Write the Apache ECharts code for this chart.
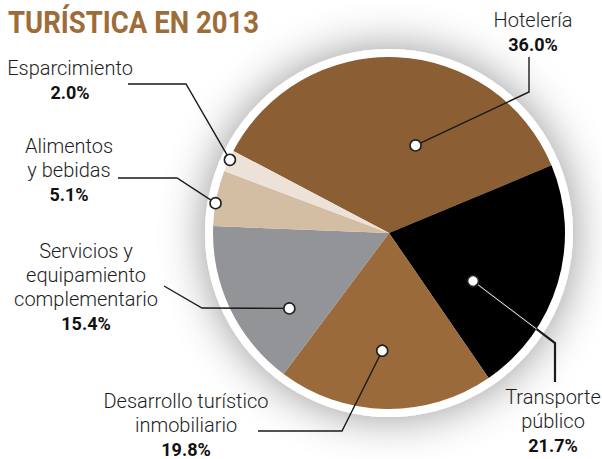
<!DOCTYPE html>
<html>
<head>
<meta charset="utf-8">
<script src="https://cdn.jsdelivr.net/npm/echarts@6/dist/echarts.min.js"></script>
<style>
  html, body { margin: 0; padding: 0; background: #ffffff; }
  #chart { width: 602px; height: 459px; }
</style>
</head>
<body>
<div id="chart"></div>
<script>
// Distribución de la inversión turística en 2013 (porcentajes)
const categories = [
  'Hotelería',
  'Transporte\npúblico',
  'Desarrollo turístico\ninmobiliario',
  'Servicios y\nequipamiento\ncomplementario',
  'Alimentos\ny bebidas',
  'Esparcimiento'
];
const shares = [36.0, 21.7, 19.8, 15.4, 5.1, 2.0];
const titleText = 'TURÍSTICA EN 2013';

const colors = ['#8B5E34', '#000000', '#9A6A3B', '#929497', '#D3BEA3', '#ECE2D8'];

// Pie geometry
const CX = 389, CY = 233, R = 176, START = 152.2;

// Callout layout: marker placement inside each slice (t = fraction of the
// slice sweep, rf = fraction of the radius), leader bend/end and text anchor
const callouts = [
  { t: 0.61, rf: 0.52, bend: [529, 92],  end: [529, 57],  text: [533, 32] },
  { t: 0.67, rf: 0.55, bend: [555, 343], end: [555, 382], text: [553, 421] },
  { t: 0.53, rf: 0.67, bend: [342, 431], end: [258, 431], text: [186, 425] },
  { t: 0.29, rf: 0.71, bend: [202, 308], end: [164, 286], text: [86, 287] },
  { t: 0.41, rf: 1.00, bend: [177, 178], end: [118, 178], text: [69, 170] },
  { t: 0.57, rf: 0.995, bend: [186, 84], end: [128, 84],  text: [70, 80] }
];

const total = shares.reduce((a, b) => a + b, 0);
const markers = [];
let cum = 0;
shares.forEach((v, i) => {
  const a0 = START - 360 * cum / total;
  const span = 360 * v / total;
  const a = (a0 - callouts[i].t * span) * Math.PI / 180;
  const r = callouts[i].rf * R;
  markers.push([CX + r * Math.cos(a), CY - r * Math.sin(a)]);
  cum += v;
});

const pieData = categories.map((name, i) => ({
  name: name,
  value: shares[i],
  itemStyle: { color: colors[i] }
}));

// Part of a leader that lies inside the pie (from p toward q)
function insideSegment(p, q) {
  const dx = q[0] - p[0], dy = q[1] - p[1];
  const fx = p[0] - CX, fy = p[1] - CY;
  const A = dx * dx + dy * dy, B = 2 * (fx * dx + fy * dy), C = fx * fx + fy * fy - R * R;
  const t = (-B + Math.sqrt(B * B - 4 * A * C)) / (2 * A);
  return [p, [p[0] + t * dx, p[1] + t * dy]];
}

const graphics = [
  {
    type: 'text', left: 8, top: 6, z: 10,
    scaleX: 0.86,
    style: { text: titleText, font: 'bold 32px Roboto', fill: '#9E6C38' }
  }
];

// Leader lines
callouts.forEach((c, i) => {
  graphics.push({
    type: 'polyline', z: 20, silent: true,
    shape: { points: [markers[i], c.bend, c.end] },
    style: { stroke: '#1a1a1a', lineWidth: i === 1 ? 2.2 : 1.4, fill: null }
  });
});
// light core where the Transporte leader crosses the black slice
graphics.push({
  type: 'polyline', z: 21, silent: true,
  shape: { points: insideSegment(markers[1], callouts[1].bend) },
  style: { stroke: '#ffffff', lineWidth: 0.9, fill: null }
});
// Markers
markers.forEach(m => {
  graphics.push({
    type: 'circle', z: 30, silent: true,
    shape: { cx: m[0], cy: m[1], r: 5.5 },
    style: { fill: '#ffffff', stroke: '#222222', lineWidth: 1.6 }
  });
});

const chart = echarts.init(document.getElementById('chart'), null, { renderer: 'svg' });
chart.setOption({
  backgroundColor: '#ffffff',
  animation: false,
  graphic: graphics,
  series: [
    {
      // white rim with soft halo behind the pie
      type: 'pie',
      silent: true,
      center: [CX, CY],
      radius: R + 8,
      z: 1,
      label: { show: false },
      labelLine: { show: false },
      data: [{ value: 1, itemStyle: { color: '#ffffff', shadowBlur: 45, shadowColor: 'rgba(0,0,0,0.42)' } }]
    },
    {
      type: 'pie',
      silent: true,
      center: [CX, CY],
      radius: R,
      startAngle: START,
      clockwise: true,
      z: 2,
      avoidLabelOverlap: false,
      itemStyle: { borderWidth: 0 },
      data: pieData,
      label: {
        show: true,
        position: 'outside',
        formatter: p => p.name.split('\n').map(s => '{n|' + s + '}').join('\n') +
          '\n{v|' + p.value.toFixed(1) + '%}',
        rich: {
          n: { fontFamily: 'Roboto', fontWeight: 300, fontSize: 20, color: '#1e1e1e', lineHeight: 24, align: 'center' },
          v: { fontFamily: 'Roboto', fontWeight: 'bold', fontSize: 18, color: '#111111', lineHeight: 24, align: 'center' }
        }
      },
      labelLine: { show: false },
      labelLayout: params => {
        const c = callouts[params.dataIndex];
        return {
          x: c.text[0],
          y: c.text[1],
          align: 'center',
          verticalAlign: 'middle',
          hideOverlap: false
        };
      }
    }
  ]
});
</script>
</body>
</html>
